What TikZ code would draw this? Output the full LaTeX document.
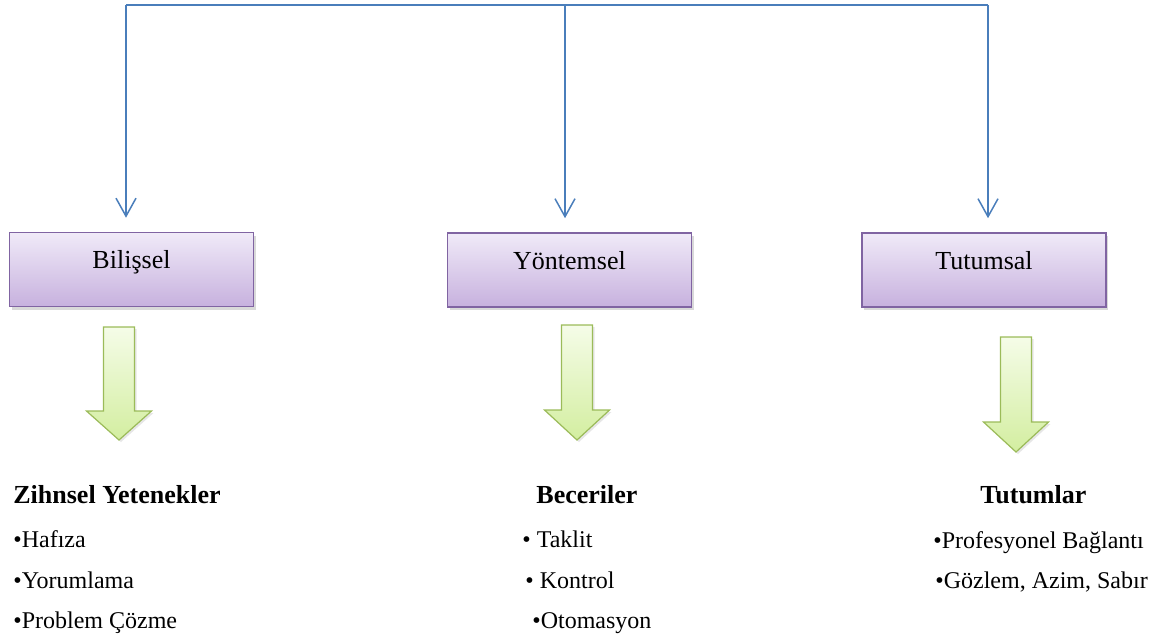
\documentclass[tikz,border=0pt]{standalone}
\usepackage{fontspec}
\setmainfont{Liberation Serif}
\usetikzlibrary{arrows.meta,shadows}

\definecolor{linkblue}{HTML}{4A7EBB}
\definecolor{boxline}{HTML}{8064A2}
\definecolor{boxtop}{HTML}{F0EAF8}
\definecolor{boxbottom}{HTML}{C7B1DE}
\definecolor{arrowline}{HTML}{9BBB59}
\definecolor{arrowtop}{HTML}{F5FCE8}
\definecolor{arrowbottom}{HTML}{D3EEA0}

\tikzset{
  link/.style={draw=linkblue, line width=0.75pt},
  catbox/.style={draw=boxline, line width=0.8pt, top color=boxtop, bottom color=boxbottom,
    minimum width=122pt, minimum height=37pt, inner sep=0pt, text height=8pt, text depth=9pt,
    font=\fontsize{13}{15}\selectfont,
    drop shadow={opacity=0.3, shadow xshift=1pt, shadow yshift=-1.5pt}},
  blockarrow/.style={draw=arrowline, line width=0.6pt, top color=arrowtop, bottom color=arrowbottom,
    drop shadow={opacity=0.2, shadow xshift=1pt, shadow yshift=-1pt}},
  heading/.style={anchor=base west, inner sep=0pt, font=\bfseries\fontsize{13}{15}\selectfont},
  listitem/.style={anchor=base west, inner sep=0pt, font=\fontsize{12}{14}\selectfont}
}

\begin{document}
\begin{tikzpicture}[x=0.5pt, y=-0.5pt]
  \useasboundingbox (0,0) rectangle (1160,639);

  % Category boxes
  \node[catbox] (bilissel) at (131.5,269.5) {Bilişsel};
  \node[catbox] (yontemsel) at (569.5,270) {Yöntemsel};
  \node[catbox] (tutumsal) at (984,270) {Tutumsal};

  % Blue distribution line
  \coordinate (hubL) at (126,5);
  \coordinate (hubM) at (565,5);
  \coordinate (hubR) at (988,5);
  \draw[link] (hubL) -- (hubR);
  \foreach \h/\b in {hubL/bilissel, hubM/yontemsel, hubR/tutumsal}
  {
    \draw[link, -{Straight Barb[length=9pt, width=10pt]}]
      (\h) -- ([yshift=7pt]\b.north -| \h);
  }

  % Green block arrows
  \foreach \cx/\ytop/\yhead/\ytip in {119/327/411/440, 577/325/410/440, 1016/337/422/452}
  {
    \path[blockarrow] (\cx-15.5,\ytop) -- (\cx+15.5,\ytop) -- (\cx+15.5,\yhead)
      -- (\cx+32.5,\yhead) -- (\cx,\ytip) -- (\cx-32.5,\yhead) -- (\cx-15.5,\yhead) -- cycle;
  }

  % Lists
  \node[heading] (zihnsel) at (13,503) {Zihnsel Yetenekler};
  \node[listitem] (hafiza) at (13,547) {•Hafıza};
  \node[listitem] (yorumlama) at (13,588) {•Yorumlama};
  \node[listitem] (problem) at (13,628) {•Problem Çözme};

  \node[heading] (beceriler) at (536,503) {Beceriler};
  \node[listitem] (taklit) at (522,547) {• Taklit};
  \node[listitem] (kontrol) at (525,588) {• Kontrol};
  \node[listitem] (otomasyon) at (532,628) {•Otomasyon};

  \node[heading] (tutumlar) at (980,503) {Tutumlar};
  \node[listitem] (baglanti) at (933,548) {•Profesyonel Bağlantı};
  \node[listitem] (gozlem) at (935,588) {•Gözlem, Azim, Sabır};
\end{tikzpicture}
\end{document}
